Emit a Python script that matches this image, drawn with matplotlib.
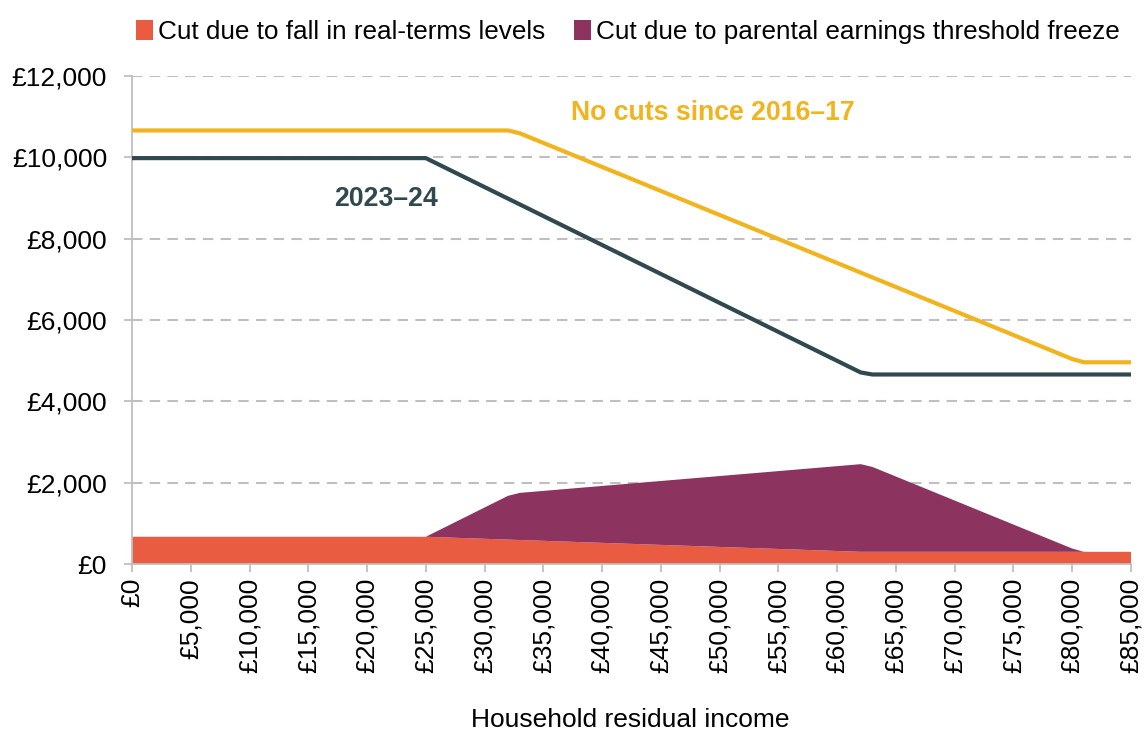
import matplotlib
matplotlib.use("Agg")
import matplotlib.pyplot as plt
from matplotlib.patches import Patch
from matplotlib.ticker import FuncFormatter, MultipleLocator

plt.rcParams['font.family'] = ['Liberation Sans', 'DejaVu Sans']

# Household residual income breakpoints (£)
income = [0, 25000, 32000, 33000, 62000, 63000, 80000, 81000, 85000]

# Maximum maintenance loan (£)
no_cuts = [10660, 10660, 10660, 10590, 7165, 7047, 5040, 4960, 4960]
current = [9980, 9980, 8983, 8841, 4710, 4660, 4660, 4660, 4660]

# Decomposition of the cut (£)
cut_real_terms = [670, 670, 600, 590, 300, 300, 300, 300, 300]
cut_threshold = [0, 0, 1077, 1159, 2155, 2087, 80, 0, 0]

legend_labels = ["Cut due to fall in real-terms levels",
                 "Cut due to parental earnings threshold freeze"]

RED = '#EA5C41'
PURPLE = '#8C3360'
ORANGE = '#F2B41E'
DARK = '#30494F'
GRID = '#BFBFBF'
FS = 19

fig = plt.figure(figsize=(11.46, 7.34), dpi=100)
ax = fig.add_axes([0.1152, 0.2316, 0.8717, 0.6649])

ax.stackplot(income, cut_real_terms, cut_threshold,
             colors=[RED, PURPLE], linewidth=0, zorder=2)
ax.plot(income, no_cuts, color=ORANGE, lw=3, solid_joinstyle='round',
        solid_capstyle='round', zorder=3)
ax.plot(income, current, color=DARK, lw=3, solid_joinstyle='round',
        solid_capstyle='round', zorder=3)

ax.text(49400, 11090, "No cuts since 2016–17", color=ORANGE,
        fontsize=19.2, fontweight='bold', ha='center', va='center')
ax.text(21630, 8980, "2023–24", color=DARK,
        fontsize=19.2, fontweight='bold', ha='center', va='center')

ax.set_xlim(0, 85000)
ax.set_ylim(0, 12000)
ax.xaxis.set_major_locator(MultipleLocator(5000))
ax.yaxis.set_major_locator(MultipleLocator(2000))
money = FuncFormatter(lambda v, p: f"£{int(v):,}")
ax.xaxis.set_major_formatter(money)
ax.yaxis.set_major_formatter(money)

for lab in ax.get_xticklabels():
    lab.set_rotation(90)

ax.tick_params(axis='both', labelsize=FS, length=6, width=1.3,
               color=GRID, labelcolor='black')
ax.tick_params(axis='x', pad=4)
ax.tick_params(axis='y', pad=12)

ax.grid(axis='y', color=GRID, linestyle=(0, (5, 3.5)), lw=1.5, zorder=0)
ax.set_axisbelow(True)
for s in ['top', 'right']:
    ax.spines[s].set_visible(False)
for s in ['left', 'bottom']:
    ax.spines[s].set_color(GRID)
    ax.spines[s].set_linewidth(1.3)

ax.set_xlabel("Household residual income", fontsize=FS)
ax.xaxis.set_label_coords(0.4985, -0.32)
ax.xaxis.label.set_va('center')

handles = [Patch(facecolor=RED), Patch(facecolor=PURPLE)]
fig.legend(handles, legend_labels, loc='upper center', ncol=2,
           bbox_to_anchor=(0.548, 1.0), frameon=False, fontsize=18.8,
           handlelength=0.65, handleheight=0.85, handletextpad=0.2,
           columnspacing=1.1, borderaxespad=0.35)

fig.savefig("out.png", dpi=100)
